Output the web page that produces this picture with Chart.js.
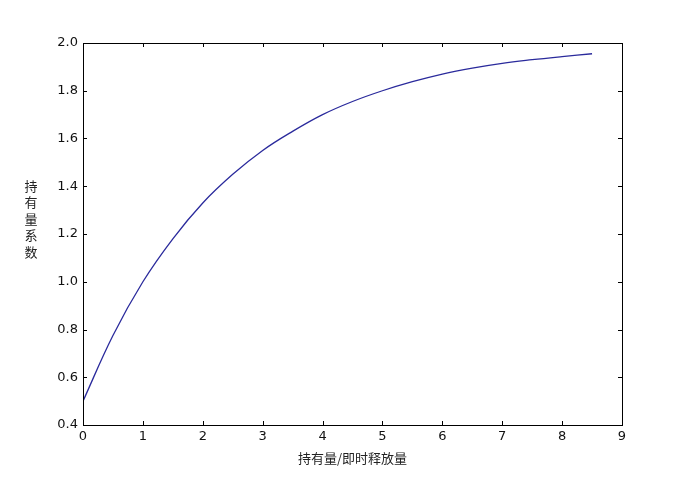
<!DOCTYPE html>
<html>
<head>
<meta charset="utf-8">
<script src="https://cdn.jsdelivr.net/npm/chart.js"></script>
<style>
  html, body { margin: 0; padding: 0; background: #fff; }
  #wrap { width: 675px; height: 488px; position: relative; }
</style>
</head>
<body>
<div id="wrap"><canvas id="c" width="675" height="488"></canvas></div>
<script>
// values
const xVals = [0, 0.5, 1, 1.5, 2, 2.5, 3, 3.5, 4, 4.5, 5, 5.5, 6, 6.5, 7, 7.5, 8, 8.5];
const yVals = [0.50, 0.775, 1.00, 1.18, 1.33, 1.45, 1.55, 1.63, 1.70, 1.755, 1.80, 1.838, 1.87, 1.895, 1.915, 1.93, 1.943, 1.955];
const xTicks = [0, 1, 2, 3, 4, 5, 6, 7, 8, 9];
const yTicks = [0.4, 0.6, 0.8, 1.0, 1.2, 1.4, 1.6, 1.8, 2.0];
const xTitle = '持有量/即时释放量';
const yTitle = '持有量系数';

const lineColor = '#2a2a9c';
const tickFont = { family: 'DejaVu Sans', size: 13 };
const cjkFont = '"Noto Sans CJK SC", sans-serif';

// matplotlib-style frame with inward ticks on all four sides, plus stacked y label
const framePlugin = {
  id: 'frame',
  afterDraw(chart) {
    const { ctx, chartArea: a, scales: { x, y } } = chart;
    ctx.save();
    ctx.strokeStyle = '#000';
    ctx.lineWidth = 1;
    ctx.strokeRect(a.left + 0.5, a.top + 0.5, a.right - a.left, a.bottom - a.top);
    ctx.beginPath();
    xTicks.forEach(v => {
      const px = Math.round(x.getPixelForValue(v)) + 0.5;
      ctx.moveTo(px, a.bottom); ctx.lineTo(px, a.bottom - 4);
      ctx.moveTo(px, a.top); ctx.lineTo(px, a.top + 4);
    });
    yTicks.forEach(v => {
      const py = Math.round(y.getPixelForValue(v)) + 0.5;
      ctx.moveTo(a.left, py); ctx.lineTo(a.left + 4, py);
      ctx.moveTo(a.right, py); ctx.lineTo(a.right - 4, py);
    });
    ctx.stroke();

    ctx.fillStyle = '#222';
    ctx.font = '13px ' + cjkFont;
    ctx.textAlign = 'center';
    ctx.textBaseline = 'middle';
    [...yTitle].forEach((ch, i) => ctx.fillText(ch, 31, 186 + i * 16.5));
    ctx.restore();
  }
};

new Chart(document.getElementById('c'), {
  type: 'line',
  data: {
    datasets: [{
      data: xVals.map((v, i) => ({ x: v, y: yVals[i] })),
      borderColor: lineColor,
      borderWidth: 1.3,
      pointRadius: 0,
      fill: false,
      tension: 0.4
    }]
  },
  options: {
    responsive: false,
    animation: false,
    layout: { padding: { left: 0, right: 53, top: 43, bottom: 22 } },
    plugins: { legend: { display: false }, tooltip: { enabled: false } },
    scales: {
      x: {
        type: 'linear',
        min: 0, max: 9,
        afterFit: s => { s.height = 41; },
        afterBuildTicks: s => { s.ticks = xTicks.map(v => ({ value: v })); },
        grid: { display: false, drawTicks: false },
        border: { display: false },
        ticks: { color: '#111', font: tickFont, padding: 4, maxRotation: 0, callback: v => String(v) },
        title: { display: true, text: xTitle, color: '#222', font: { family: cjkFont, size: 13 }, padding: { top: 1, bottom: 0 } }
      },
      y: {
        type: 'linear',
        min: 0.4, max: 2.0,
        afterFit: s => { s.width = 83; },
        afterBuildTicks: s => { s.ticks = yTicks.map(v => ({ value: v })); },
        grid: { display: false, drawTicks: false },
        border: { display: false },
        ticks: { color: '#111', font: tickFont, padding: 5, callback: v => v.toFixed(1) }
      }
    }
  },
  plugins: [framePlugin]
});
</script>
</body>
</html>
